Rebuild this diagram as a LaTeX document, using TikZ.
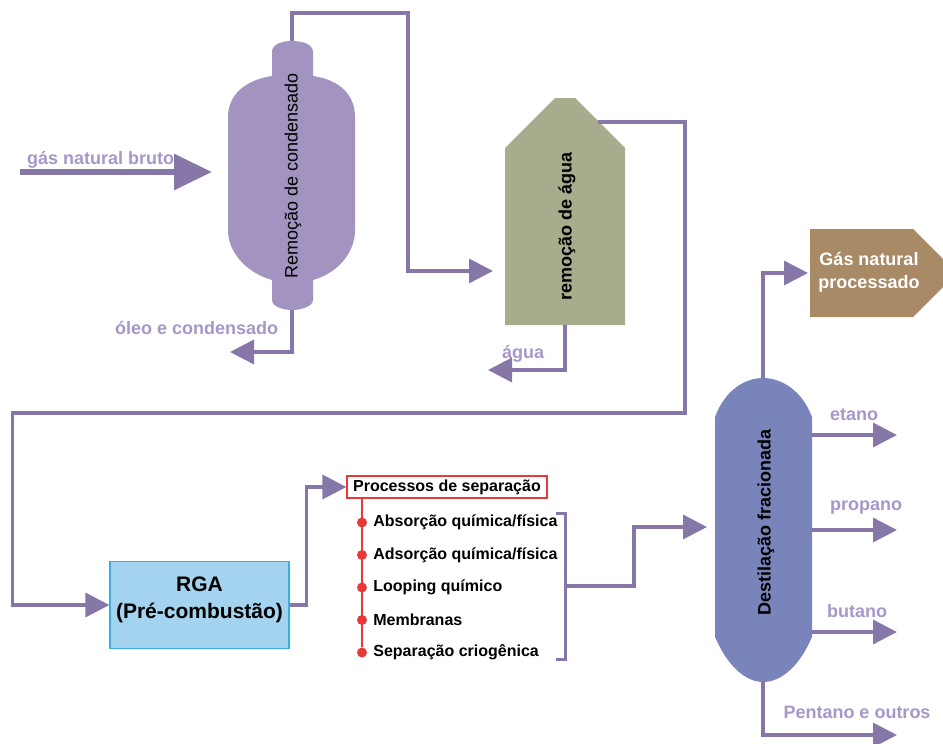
\documentclass[tikz,border=0pt]{standalone}
\usepackage{fontspec}
\setmainfont{Liberation Sans}
\usetikzlibrary{arrows.meta,positioning,calc}

\definecolor{flowc}{HTML}{8677A8}
\definecolor{labelc}{HTML}{A797C8}
\definecolor{vesselc}{HTML}{A393C0}
\definecolor{towerc}{HTML}{A8AB8C}
\definecolor{columnc}{HTML}{7884BA}
\definecolor{productc}{HTML}{A88A66}
\definecolor{rgafill}{HTML}{A3D3EE}
\definecolor{rgaline}{HTML}{3AAEE0}
\definecolor{sepred}{HTML}{E8383A}

\tikzset{
  pipe/.style={draw=flowc, line width=3.5pt},
  flow/.style={pipe, -{Triangle[length=24pt,width=24pt]}},
  streamlabel/.style={text=labelc, font=\bfseries\fontsize{18}{21}\selectfont, inner sep=0pt},
  vessellabel/.style={rotate=90, font=\fontsize{18}{21}\selectfont, inner sep=0pt},
  sepbox/.style={draw=sepred, line width=1.2pt, fill=white, minimum width=200pt, minimum height=22pt,
    inner sep=0pt, font=\bfseries\fontsize{16}{18}\selectfont},
  sepitem/.style={inner sep=0pt, font=\bfseries\fontsize{16}{18}\selectfont},
  sepdot/.style={circle, fill=sepred, inner sep=0pt, minimum size=10pt},
  rgabox/.style={draw=rgaline, fill=rgafill, line width=1.2pt, minimum width=179pt, minimum height=87pt,
    inner sep=0pt, align=center, text depth=14pt, font=\bfseries\fontsize{21}{27}\selectfont},
}

\begin{document}
\begin{tikzpicture}[x=1pt, y=-1pt]
\useasboundingbox (0,0) rectangle (943,744);

% remocao de condensado
\fill[vesselc] (272,76) -- (272,52) .. controls (272,44) and (282,41) .. (292,41)
  .. controls (302,41) and (313,44) .. (313,52) -- (313,76)
  .. controls (340,80) and (355,95) .. (355,117) -- (355,230)
  .. controls (355,255) and (335,274) .. (313,280) -- (313,300)
  .. controls (313,306) and (302,310) .. (292,310) .. controls (282,310) and (272,306) .. (272,300)
  -- (272,280) .. controls (250,274) and (228,255) .. (228,230) -- (228,117)
  .. controls (228,95) and (245,80) .. (272,76) -- cycle;
\node[vessellabel] (cond) at (293,176) {Remoção de condensado};
\coordinate (condtop) at (292,41);
\coordinate (condbot) at (292,310);

% remocao de agua
\fill[towerc] (505,325) -- (505,148) -- (555,98) -- (575,98) -- (625,148) -- (625,325) -- cycle;
\node[vessellabel, font=\bfseries\fontsize{18}{21}\selectfont] (water) at (567,226) {remoção de água};
\coordinate (waterwest) at (505,271);
\coordinate (waterbot) at (565,325);
\coordinate (waterne) at (598,122);

% destilacao
\fill[columnc] (715,637) -- (715,417) .. controls (725,390) and (745,378) .. (763,378)
  .. controls (781,378) and (802,390) .. (812,417) -- (812,637)
  .. controls (800,665) and (782,682) .. (763,682) .. controls (745,682) and (727,665) .. (715,637) -- cycle;
\node[vessellabel, font=\bfseries\fontsize{18}{21}\selectfont] (dist) at (766,522) {Destilação fracionada};
\coordinate (disttop) at (763,378);
\coordinate (distbot) at (763,682);
\coordinate (distwest) at (715,527);
\coordinate (disteast) at (812,527);

% gas natural processado
\fill[productc] (810,229) -- (913,229) -- (957,273) -- (913,317) -- (810,317) -- cycle;
\node[align=center, text=white, inner sep=0pt, font=\bfseries\fontsize{18}{23}\selectfont] (gnp) at (869,272) {Gás natural\\processado};
\coordinate (gnpwest) at (810,273);

% RGA e processos de separacao
\node[rgabox] (rga) at (199.5,605) {RGA\\(Pré-combustão)};
\node[sepbox] (sep) at (447,487) {Processos de separação};
\foreach \txt [count=\i] in {Absorção química/física, Adsorção química/física, Looping químico, Membranas, Separação criogênica}{
  \node[sepdot] (d\i) at (362,490+32.5*\i) {};
  \node[sepitem, right=6pt of d\i] (s\i) {\txt};
}
\draw[sepred, line width=1.2pt] (sep.south -| d1) -- (d5);

% correntes
\coordinate (feedin) at (20,172);
\coordinate (feedtip) at (212,172);
\draw[pipe, line width=6pt, -{Triangle[length=38pt,width=35pt]}] (feedin) -- (feedtip);
\node[streamlabel, anchor=west] (lfeed) at (27,160) {gás natural bruto};

\draw[flow, shorten >=12pt] (condtop) -- ++(0,-28) -| ([xshift=-97pt]waterwest) -- (waterwest);
\coordinate (oilout) at (230,352);
\draw[flow] (condbot) |- (oilout);
\node[streamlabel, anchor=west] (loil) at (115,328) {óleo e condensado};

\coordinate (waterout) at (488,370);
\draw[flow] (waterbot) |- (waterout);
\node[streamlabel, anchor=west] (lwater) at (502,354) {água};

\draw[flow] (waterne) -- ++(87,0) -- ++(0,291) -| ([xshift=-97pt]rga.west) -- (rga.west);
\draw[flow] (rga.east) -- ++(17,0) |- (sep.west);

\coordinate (brtop) at (565,513);
\coordinate (brbot) at (565,659);
\coordinate (brmid) at (565,586);
\draw[pipe, line width=3pt] ([xshift=-9pt]brtop) -- (brtop) -- (brbot) -- ([xshift=-9pt]brbot);
\draw[flow, shorten >=8pt] (brmid) -- ++(69,0) |- (distwest);

\draw[flow, shorten >=2pt] (disttop) |- (gnpwest);

\coordinate (etanoout) at (897,435);
\coordinate (propanoout) at (897,530);
\coordinate (butanoout) at (897,632);
\coordinate (pentout) at (897,735);
\draw[flow] (disteast |- etanoout) -- (etanoout);
\draw[flow] (disteast |- propanoout) -- (propanoout);
\draw[flow] (disteast |- butanoout) -- (butanoout);
\draw[flow] (distbot) |- (pentout);
\node[streamlabel] (letano) at (854,415) {etano};
\node[streamlabel] (lpropano) at (866,508) {propano};
\node[streamlabel] (lbutano) at (857,611) {butano};
\node[streamlabel] (lpent) at (857,712) {Pentano e outros};
\end{tikzpicture}
\end{document}
